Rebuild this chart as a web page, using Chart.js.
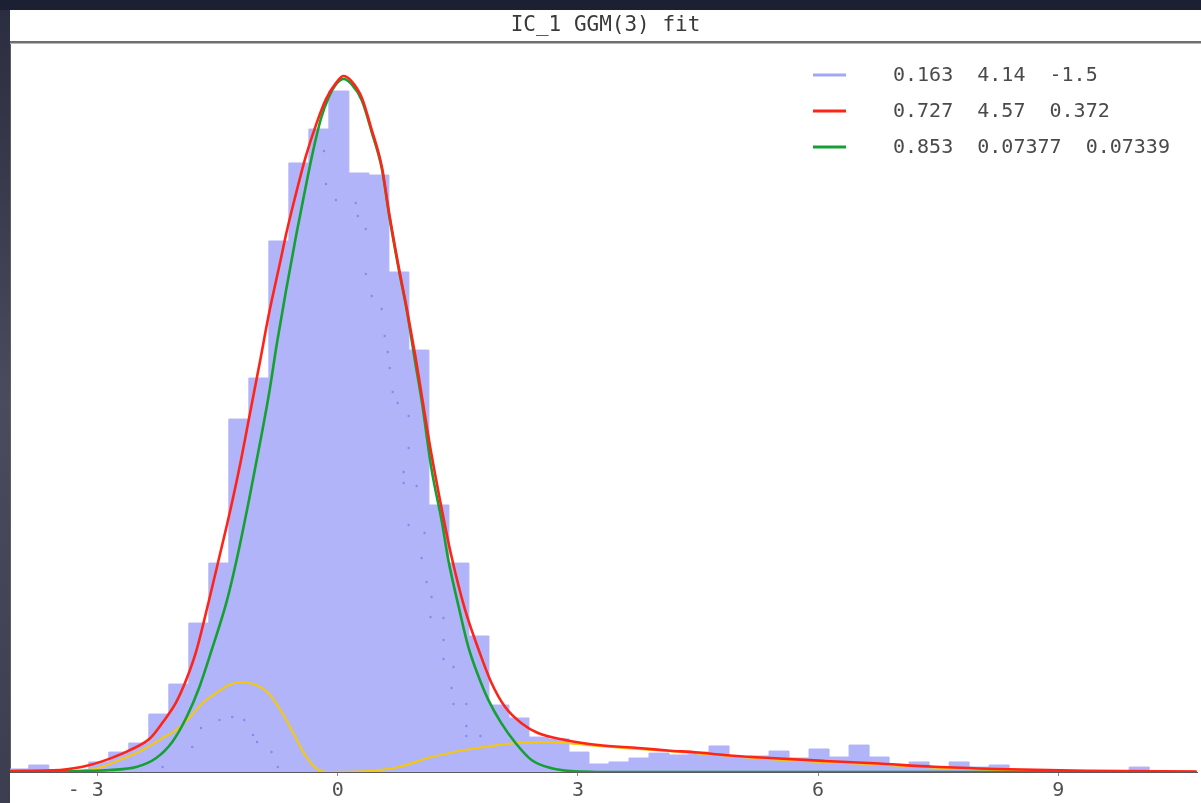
<!DOCTYPE html>
<html>
<head>
<meta charset="utf-8">
<title>IC_1 GGM(3) fit</title>
<script src="https://cdn.jsdelivr.net/npm/chart.js@4/dist/chart.umd.min.js"></script>
<style>
  html, body { margin: 0; padding: 0; background: #1d1f33; }
  #wrap { position: relative; width: 1201px; height: 803px; }
  canvas { display: block; }
</style>
</head>
<body>
<div id="wrap"><canvas id="c" width="1201" height="803"></canvas></div>
<script>
// ---- data -------------------------------------------------------------
const titleText = 'IC_1 GGM(3) fit';

// histogram of IC_1 (density), uniform bins
const binStart = -4.1125;
const binWidth = 0.25;
const histDensity = [
  0.0021, 0.0048, 0.0014, 0.0007, 0.0069, 0.0137, 0.0199, 0.0398, 0.0604, 0.1023,
  0.1435, 0.2424, 0.2706, 0.3647, 0.4183, 0.4416, 0.4677, 0.4114, 0.4100, 0.3434,
  0.2898, 0.1834, 0.1435, 0.0934, 0.0460, 0.0371, 0.0240, 0.0227, 0.0137, 0.0055,
  0.0069, 0.0096, 0.0130, 0.0117, 0.0137, 0.0179, 0.0103, 0.0110, 0.0144, 0.0096,
  0.0158, 0.0103, 0.0185, 0.0103, 0.0048, 0.0069, 0.0034, 0.0069, 0.0034, 0.0048,
  0.0007, 0.0007, 0.0007, 0.0007, 0.0000, 0.0007, 0.0034, 0.0007, 0.0000, 0.0000
];

// fitted mixture density [x, y]
const mixtureFit = [
  [-4.10, 0.0007], [-3.47, 0.0014], [-3.10, 0.0048], [-2.85, 0.0092], [-2.60, 0.0150],
  [-2.35, 0.0230], [-2.19, 0.0340], [-2.02, 0.0480], [-1.89, 0.0640], [-1.77, 0.0830],
  [-1.61, 0.1180], [-1.48, 0.1480], [-1.36, 0.1760], [-1.23, 0.2090], [-1.11, 0.2430],
  [-0.98, 0.2800], [-0.86, 0.3150], [-0.73, 0.3480], [-0.64, 0.3710], [-0.52, 0.3980],
  [-0.40, 0.4230], [-0.27, 0.4450], [-0.15, 0.4620], [-0.02, 0.4735], [0.07, 0.4780],
  [0.17, 0.4745], [0.30, 0.4630], [0.42, 0.4416], [0.55, 0.4155], [0.64, 0.3839],
  [0.76, 0.3468], [0.86, 0.3187], [0.97, 0.2850], [1.05, 0.2580], [1.17, 0.2180],
  [1.30, 0.1800], [1.42, 0.1480], [1.59, 0.1113], [1.76, 0.0838], [1.92, 0.0611],
  [2.09, 0.0446], [2.29, 0.0337], [2.50, 0.0268], [2.84, 0.0220], [3.25, 0.0185],
  [3.75, 0.0165], [4.12, 0.0148], [4.50, 0.0134], [4.83, 0.0117], [5.40, 0.0096],
  [6.08, 0.0076], [6.70, 0.0060], [7.45, 0.0036], [8.23, 0.0021], [9.35, 0.0008],
  [10.73, 0.0003]
];

// main component
const componentMain = [
  [-4.10, 0.0000], [-3.19, 0.0007], [-2.85, 0.0014], [-2.52, 0.0034], [-2.27, 0.0096],
  [-2.07, 0.0206], [-1.89, 0.0378], [-1.73, 0.0584], [-1.57, 0.0850], [-1.39, 0.1170],
  [-1.26, 0.1470], [-1.11, 0.1870], [-0.98, 0.2240], [-0.86, 0.2600], [-0.76, 0.2950],
  [-0.65, 0.3300], [-0.52, 0.3690], [-0.42, 0.3970], [-0.32, 0.4240], [-0.21, 0.4490],
  [-0.11, 0.4640], [-0.02, 0.4725], [0.07, 0.4760], [0.17, 0.4725], [0.30, 0.4612],
  [0.42, 0.4400], [0.55, 0.4141], [0.64, 0.3826], [0.76, 0.3455], [0.86, 0.3173],
  [0.97, 0.2802], [1.05, 0.2541], [1.17, 0.2080], [1.30, 0.1717], [1.38, 0.1456],
  [1.51, 0.1133], [1.63, 0.0859], [1.76, 0.0652], [1.88, 0.0495], [2.04, 0.0337],
  [2.22, 0.0199], [2.42, 0.0082], [2.66, 0.0027], [2.91, 0.0007], [3.50, 0.0000],
  [10.73, 0.0000]
];

// left-hand component
const componentLeft = [
  [-4.10, 0.0000], [-3.47, 0.0007], [-3.10, 0.0014], [-2.73, 0.0082], [-2.44, 0.0151],
  [-2.19, 0.0234], [-2.02, 0.0288], [-1.86, 0.0371], [-1.69, 0.0474], [-1.52, 0.0543],
  [-1.36, 0.0598], [-1.20, 0.0618], [-1.02, 0.0598], [-0.88, 0.0549], [-0.70, 0.0412],
  [-0.55, 0.0261], [-0.41, 0.0117], [-0.26, 0.0021], [-0.12, 0.0000], [5.00, 0.0000]
];

// right-hand (tail) component
const componentTail = [
  [-0.12, 0.0000], [0.39, 0.0007], [0.76, 0.0034], [1.17, 0.0103], [1.59, 0.0151],
  [2.00, 0.0185], [2.25, 0.0199], [2.63, 0.0206], [2.84, 0.0199], [3.25, 0.0179],
  [3.75, 0.0158], [4.50, 0.0128], [5.40, 0.0089], [6.70, 0.0053], [8.23, 0.0014],
  [10.73, 0.0000]
];

// sparse dotted trace
const dottedTrace = [
  [-2.19, 0.0034], [-1.82, 0.0172], [-1.71, 0.0302], [-1.48, 0.0357], [-1.32, 0.0378],
  [-1.17, 0.0357], [-1.06, 0.0254], [-1.01, 0.0206], [-0.83, 0.0137], [-0.75, 0.0034],
  [-0.174, 0.4265], [-0.149, 0.4038], [-0.025, 0.3929], [0.224, 0.3908], [0.249, 0.3819],
  [0.349, 0.3729], [0.349, 0.3420], [0.423, 0.3269], [0.548, 0.3180], [0.585, 0.2995],
  [0.623, 0.2885], [0.648, 0.2775], [0.685, 0.2610], [0.747, 0.2534], [0.884, 0.2445],
  [0.884, 0.2225], [0.822, 0.2060], [0.822, 0.1985], [0.984, 0.1964], [0.884, 0.1696],
  [1.083, 0.1641], [1.046, 0.1470], [1.108, 0.1305], [1.171, 0.1202], [1.158, 0.1065],
  [1.320, 0.1058], [1.320, 0.0907], [1.320, 0.0776], [1.445, 0.0721], [1.420, 0.0577],
  [1.445, 0.0467], [1.606, 0.0467], [1.606, 0.0316], [1.606, 0.0247], [1.781, 0.0247]
];

// fitted parameters per component
const legendParams = [
  ['0.163', '4.14', '-1.5'],
  ['0.727', '4.57', '0.372'],
  ['0.853', '0.07377', '0.07339']
];

const xTicks = [-3, 0, 3, 6, 9];

// ---- build datasets --------------------------------------------------
const toPts = arr => arr.map(p => ({ x: p[0], y: p[1] }));

const histPts = histDensity.map((v, k) => ({ x: binStart + k * binWidth, y: v }));
histPts.push({ x: binStart + histDensity.length * binWidth, y: 0 });

const MONO = '"DejaVu Sans Mono", "Liberation Mono", monospace';
const COL_HIST = '#b1b4f9';
const COL_RED = '#ff2418';
const COL_GREEN = '#14a032';
const COL_YELLOW = '#f2c812';
const legendColors = ['#a3a7f6', COL_RED, COL_GREEN];

// frame, title band and separator
const framePlugin = {
  id: 'frame',
  beforeDraw(chart) {
    const c = chart.ctx;
    c.save();
    c.fillStyle = '#1d1f33';
    c.fillRect(0, 0, 1201, 803);
    const g = c.createLinearGradient(0, 0, 0, 803);
    g.addColorStop(0, '#2a2c3f');
    g.addColorStop(0.5, '#4a4c5d');
    g.addColorStop(1, '#3c3e50');
    c.fillStyle = g;
    c.fillRect(0, 10, 10, 793);
    c.fillStyle = '#ffffff';
    c.fillRect(10, 10, 1191, 793);
    c.fillStyle = '#6f6f6f';
    c.fillRect(10, 41, 1191, 2);
    c.fillStyle = '#b8b8b8';
    c.fillRect(10, 43, 1191, 1);
    c.fillStyle = '#5c5c5c';
    c.fillRect(10, 44, 1, 729);
    c.fillStyle = '#3a3a3a';
    c.font = '21px ' + MONO;
    c.textAlign = 'center';
    c.textBaseline = 'middle';
    c.fillText(titleText, 605.5, 26);
    c.restore();
  }
};

// parameter table in the upper right
const paramLegendPlugin = {
  id: 'paramLegend',
  afterDraw(chart) {
    const c = chart.ctx;
    c.save();
    c.font = '20px ' + MONO;
    c.textAlign = 'left';
    c.textBaseline = 'middle';
    legendParams.forEach((row, i) => {
      const y = 75 + i * 36;
      c.strokeStyle = legendColors[i];
      c.lineWidth = 3;
      c.beginPath();
      c.moveTo(813, y);
      c.lineTo(846, y);
      c.stroke();
      c.fillStyle = '#4a4a4a';
      c.fillText(row.join('  '), 893, y + 1);
    });
    c.restore();
  }
};

new Chart(document.getElementById('c'), {
  type: 'line',
  data: {
    datasets: [
      {
        label: 'mixture',
        data: toPts(mixtureFit),
        borderColor: COL_RED, borderWidth: 2.6,
        pointRadius: 0, cubicInterpolationMode: 'monotone', fill: false, order: 1
      },
      {
        label: 'main',
        data: toPts(componentMain),
        borderColor: COL_GREEN, borderWidth: 2.6,
        pointRadius: 0, cubicInterpolationMode: 'monotone', fill: false, order: 2
      },
      {
        label: 'left',
        data: toPts(componentLeft),
        borderColor: COL_YELLOW, borderWidth: 2.2,
        pointRadius: 0, cubicInterpolationMode: 'monotone', fill: false, order: 3
      },
      {
        label: 'tail',
        data: toPts(componentTail),
        borderColor: COL_YELLOW, borderWidth: 2.2,
        pointRadius: 0, cubicInterpolationMode: 'monotone', fill: false, order: 3
      },
      {
        label: 'trace',
        data: toPts(dottedTrace),
        showLine: false,
        pointRadius: 1.2, pointBorderWidth: 0,
        pointBackgroundColor: 'rgba(104,110,228,0.6)', order: 4
      },
      {
        label: 'histogram',
        data: histPts,
        stepped: true,
        fill: 'origin',
        backgroundColor: COL_HIST,
        borderColor: COL_HIST, borderWidth: 1,
        pointRadius: 0, order: 5
      }
    ]
  },
  options: {
    responsive: false,
    animation: false,
    devicePixelRatio: 1,
    layout: { padding: { left: 10, top: 44, right: 0, bottom: 0 } },
    plugins: {
      legend: { display: false },
      tooltip: { enabled: false },
      title: { display: false }
    },
    scales: {
      x: {
        type: 'linear',
        min: -4.097,
        max: 10.735,
        afterFit(scale) { scale.height = 31; },
        afterBuildTicks(scale) { scale.ticks = xTicks.map(v => ({ value: v })); },
        border: { display: true, color: '#5a5a5a', width: 1 },
        grid: { drawOnChartArea: false, drawTicks: true, tickLength: 4, color: '#8a8a8a' },
        ticks: {
          autoSkip: false,
          maxRotation: 0,
          padding: 3,
          color: '#505050',
          font: { family: MONO, size: 20 },
          callback: v => (v < 0 ? '- ' + Math.abs(v) + '  ' : String(v))
        }
      },
      y: { display: false, min: 0, max: 0.5 }
    }
  },
  plugins: [framePlugin, paramLegendPlugin]
});
</script>
</body>
</html>
